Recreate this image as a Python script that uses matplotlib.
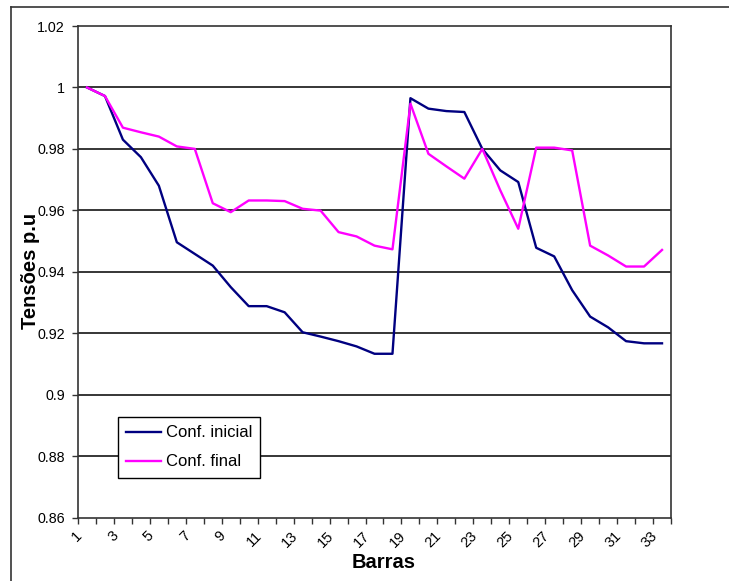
import matplotlib
matplotlib.use("Agg")
import matplotlib.pyplot as plt
from matplotlib.lines import Line2D
import matplotlib.transforms as mtransforms

plt.rcParams['font.family'] = ['Liberation Sans', 'DejaVu Sans']

barras = list(range(1, 34))
conf_inicial = [1.000, 0.9972, 0.983, 0.9773, 0.968, 0.9496, 0.9458, 0.942, 0.935,
                0.9288, 0.9288, 0.9268, 0.9203, 0.9189, 0.9174, 0.9157, 0.9133, 0.9133,
                0.9965, 0.9931, 0.9923, 0.992, 0.980, 0.973, 0.9692, 0.9478, 0.945,
                0.934, 0.9254, 0.9219, 0.9174, 0.9167, 0.9167]
conf_final = [1.000, 0.9972, 0.9869, 0.9854, 0.984, 0.9808, 0.980, 0.9623, 0.9594,
              0.9632, 0.9632, 0.963, 0.9605, 0.9599, 0.9529, 0.9515, 0.9485, 0.9473,
              0.9947, 0.9784, 0.9743, 0.9703, 0.980, 0.9665, 0.954, 0.9804, 0.9804,
              0.9795, 0.9485, 0.9453, 0.9417, 0.9417, 0.9471]
y_ticks = [0.86, 0.88, 0.90, 0.92, 0.94, 0.96, 0.98, 1.00, 1.02]
y_labels = ['0.86', '0.88', '0.9', '0.92', '0.94', '0.96', '0.98', '1', '1.02']
x_label_vals = barras[::2]

W, H = 729, 581
fig = plt.figure(figsize=(W / 100, H / 100), dpi=100)
fig.patch.set_facecolor('white')

# outer chart border (extends past right/bottom edge)
fig.add_artist(Line2D([11 / W, 11 / W], [0, 1 - 7 / H], transform=fig.transFigure,
                      color='#333333', lw=1.2))
fig.add_artist(Line2D([11 / W, 1], [1 - 7 / H, 1 - 7 / H], transform=fig.transFigure,
                      color='#333333', lw=1.2))

l, r, t, b = 78, 671, 26, 517.5
ax = fig.add_axes([l / W, 1 - b / H, (r - l) / W, (b - t) / H])

ax.plot(barras, conf_inicial, color='#000080', lw=1.7, label='Conf. inicial')
ax.plot(barras, conf_final, color='#FF00FF', lw=1.7, label='Conf. final')

ax.set_xlim(0.5, 33.5)
ax.set_ylim(0.86, 1.02)
ax.set_yticks(y_ticks)
ax.set_yticklabels(y_labels, fontsize=10.3)
for yv in y_ticks[1:-1]:
    ax.axhline(yv, color='black', lw=1.1, zorder=0)

# major x ticks at category boundaries, labels at odd category centres
ax.set_xticks([i + 0.5 for i in range(0, 34)])
ax.set_xticklabels([])
ax.set_xticks(x_label_vals, [str(v) for v in x_label_vals], minor=True)
ax.tick_params(axis='x', which='major', direction='out', length=4.5, width=1, color='#333333')
ax.tick_params(axis='x', which='minor', length=0, pad=11.5, labelsize=10.5)
ax.tick_params(axis='y', direction='out', length=4.5, width=1, pad=5, color='#333333')
offset = mtransforms.ScaledTranslation(-7 / 100, 0, fig.dpi_scale_trans)
for lab in ax.get_xticklabels(minor=True):
    lab.set_rotation(45)
    lab.set_ha('right')
    lab.set_va('center')
    lab.set_rotation_mode('anchor')
    lab.set_transform(lab.get_transform() + offset)

for s in ax.spines.values():
    s.set_color('#333333')
    s.set_linewidth(1.2)

fig.text(30 / W, 1 - 271 / H, 'Tensões p.u', rotation=90, ha='center', va='center',
         fontsize=14.5, fontweight='bold')
fig.text(384 / W, 1 - 563 / H, 'Barras', ha='center', va='center',
         fontsize=14.5, fontweight='bold')

leg = ax.legend(loc='upper left', bbox_to_anchor=(118 / W, 1 - 417 / H),
                bbox_transform=fig.transFigure, borderaxespad=0, fancybox=False,
                framealpha=1, edgecolor='black', fontsize=12, handlelength=2.1,
                handletextpad=0.25, labelspacing=0.85, borderpad=0.5)
leg.get_frame().set_linewidth(1.0)

fig.savefig('out.png', dpi=100)
